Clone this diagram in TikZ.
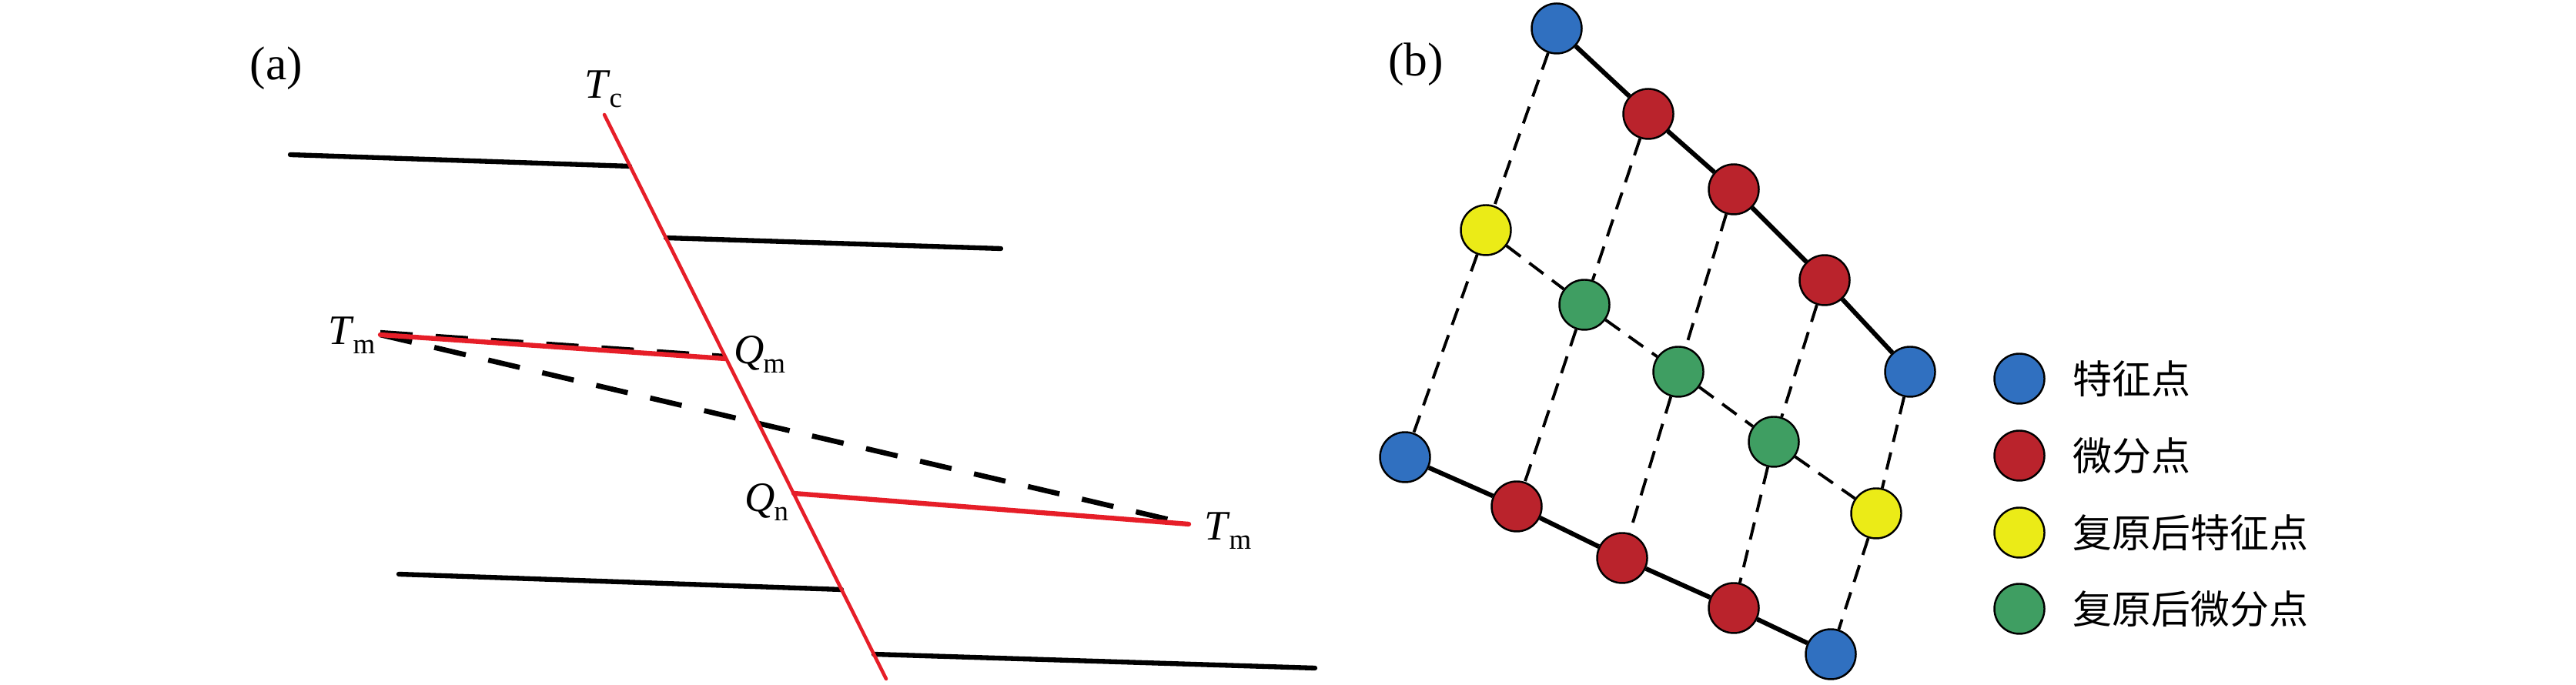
\documentclass[tikz,border=0pt]{standalone}
\usepackage{fontspec}
\usepackage{tikz}
\usetikzlibrary{positioning}
\setmainfont{Liberation Serif}
\newfontfamily\cjk{Noto Sans CJK SC}
\newcommand{\sublbl}[2]{\textit{#1}\kern-0.5pt\raisebox{-0.12cm}{\fontsize{10.5}{10.5}\selectfont #2}}

\definecolor{faultred}{HTML}{E61E28}
\definecolor{featblue}{HTML}{3070C0}
\definecolor{diffred}{HTML}{BA232C}
\definecolor{resyellow}{HTML}{EBEB17}
\definecolor{resgreen}{HTML}{3F9E62}

\begin{document}
\begin{tikzpicture}[
	bed/.style={line width=1.8pt, line cap=round},
	fault/.style={draw=faultred, line width=1.3pt, line cap=round},
	offset/.style={draw=faultred, line width=1.8pt, line cap=round},
	tracedash/.style={line width=1.9pt, dash pattern=on 0.42cm off 0.3cm},
	lbl/.style={font=\fontsize{15.5}{18}\selectfont, inner sep=0pt},
	panel/.style={font=\fontsize{17.5}{20}\selectfont, inner sep=0pt},
	dot/.style={shape=circle, draw=black, line width=0.7pt, minimum size=0.65cm, inner sep=0pt},
	link/.style={line width=1.7pt},
	gridline/.style={line width=1.1pt, dash pattern=on 0.23cm off 0.14cm},
	keytext/.style={font=\cjk\fontsize{14.5}{17}\selectfont, inner sep=0pt}
	]
	\useasboundingbox (0, 0) rectangle (33.46, 8.9);
	
	% (a)
	\node[panel] (pa) at (3.59, 8.01) {(a)};
	
	\coordinate (ft) at (7.85, 7.41);
	\coordinate (fb) at (11.51, 0.08);
	\coordinate (b1l) at (3.77, 6.89);
	\coordinate (b1r) at (8.18, 6.74);
	\coordinate (b2l) at (8.65, 5.81);
	\coordinate (b2r) at (13.00, 5.67);
	\coordinate (b3l) at (5.18, 1.44);
	\coordinate (b3r) at (10.93, 1.24);
	\coordinate (b4l) at (11.35, 0.40);
	\coordinate (b4r) at (17.08, 0.22);
	\coordinate (tml) at (4.94, 4.55);
	\coordinate (qm) at (9.42, 4.24);
	\coordinate (qn) at (10.31, 2.49);
	\coordinate (tmr) at (15.44, 2.09);
	
	\path[bed] (b1l) edge (b1r);
	\path[bed] (b2l) edge (b2r);
	\path[bed] (b3l) edge (b3r);
	\path[bed] (b4l) edge (b4r);
	\path[tracedash] ([yshift=0.8pt]tml) edge ([yshift=0.8pt]qm);
	\path[tracedash] (tml) edge (tmr);
	\path[fault] (ft) edge (fb);
	\path[offset] (tml) edge (qm);
	\path[offset] (qn) edge (tmr);
	
	\node[lbl] (tc) at (7.84, 7.74) {\sublbl{T}{c}};
	\node[lbl, anchor=east] (ltml) at (4.88, 4.54) {\sublbl{T}{m}};
	\node[lbl] (lqm) at (9.87, 4.30) {\sublbl{Q}{m}};
	\node[lbl] (lqn) at (9.96, 2.38) {\sublbl{Q}{n}};
	\node[lbl] (ltmr) at (15.95, 2.00) {\sublbl{T}{m}};
	
	% (b)
	\node[panel] (pb) at (18.39, 8.06) {(b)};
	
	\node[dot, fill=featblue] (p1) at (20.22, 8.53) {};
	\node[dot, fill=diffred] (r1) at (21.41, 7.42) {};
	\node[dot, fill=diffred] (r2) at (22.52, 6.44) {};
	\node[dot, fill=diffred] (r3) at (23.70, 5.26) {};
	\node[dot, fill=featblue] (p2) at (24.81, 4.07) {};
	\node[dot, fill=resyellow] (y1) at (19.30, 5.91) {};
	\node[dot, fill=resgreen] (g1) at (20.58, 4.94) {};
	\node[dot, fill=resgreen] (g2) at (21.80, 4.07) {};
	\node[dot, fill=resgreen] (g3) at (23.04, 3.16) {};
	\node[dot, fill=resyellow] (y2) at (24.37, 2.23) {};
	\node[dot, fill=featblue] (p3) at (18.25, 2.96) {};
	\node[dot, fill=diffred] (s1) at (19.70, 2.32) {};
	\node[dot, fill=diffred] (s2) at (21.07, 1.65) {};
	\node[dot, fill=diffred] (s3) at (22.52, 1.00) {};
	\node[dot, fill=featblue] (p4) at (23.78, 0.40) {};
	
	\path[link] (p1) edge (r1) (r1) edge (r2) (r2) edge (r3) (r3) edge (p2);
	\path[link] (p3) edge (s1) (s1) edge (s2) (s2) edge (s3) (s3) edge (p4);
	\path[gridline] (p1) edge (y1) (y1) edge (p3);
	\path[gridline] (r1) edge (g1) (g1) edge (s1);
	\path[gridline] (r2) edge (g2) (g2) edge (s2);
	\path[gridline] (r3) edge (g3) (g3) edge (s3);
	\path[gridline] (p2) edge (y2) (y2) edge (p4);
	\path[gridline] (y1) edge (g1) (g1) edge (g2) (g2) edge (g3) (g3) edge (y2);
	
	% legend
	\node[dot, fill=featblue] (k1) at (26.23, 3.98) {};
	\node[dot, fill=diffred] (k2) at (26.23, 2.98) {};
	\node[dot, fill=resyellow] (k3) at (26.23, 1.98) {};
	\node[dot, fill=resgreen] (k4) at (26.23, 0.99) {};
	\node[keytext, right=0.35cm of k1] (t1) {特征点};
	\node[keytext, right=0.35cm of k2] (t2) {微分点};
	\node[keytext, right=0.35cm of k3] (t3) {复原后特征点};
	\node[keytext, right=0.35cm of k4] (t4) {复原后微分点};
	
\end{tikzpicture}
\end{document}
